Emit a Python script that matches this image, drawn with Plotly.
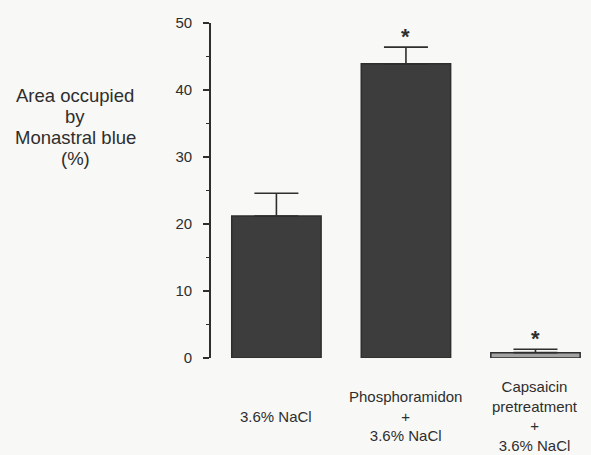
import plotly.graph_objects as go

# ---- data ----
categories = ["3.6% NaCl", "Phosphoramidon<br>+<br>3.6% NaCl", "Capsaicin<br>pretreatment<br>+<br>3.6% NaCl"]
values = [21.2, 43.9, 0.8]
errors = [3.4, 2.5, 0.5]
significant = ["", "*", "*"]
y_ticks = [0, 10, 20, 30, 40, 50]
y_title_lines = ["Area occupied", "by", "Monastral blue", "(%)"]

bar_fill = ["#3d3d3d", "#3d3d3d", "#a3a3a3"]
ink = "#2e2e2e"
bg = "#f8f8f6"

W, H = 591, 455
L, R, T, B = 211, 5, 23, 97
plot_h = H - T - B
plot_w = W - L - R

xs = list(range(len(categories)))
FONT = "Liberation Sans, Arial, Helvetica"

fig = go.Figure()
fig.add_trace(go.Bar(
    x=xs, y=values,
    width=0.69,
    marker=dict(color=bar_fill, line=dict(color=ink, width=1.5)),
    error_y=dict(type="data", array=errors, symmetric=False, arrayminus=[0, 0, 0],
                 color=ink, thickness=1.6, width=22),
    showlegend=False,
    hoverinfo="skip",
))

annotations = []
# significance asterisks
for x, v, e, s in zip(xs, values, errors, significant):
    if s:
        annotations.append(dict(x=x, y=v + e, xref="x", yref="y", text="<b>" + s + "</b>", showarrow=False,
                                yanchor="bottom", yshift=-4,
                                font=dict(family=FONT, size=22, color=ink)))
# category labels (vertically centred, as in the original)
for x, c in zip(xs, categories):
    annotations.append(dict(x=x, y=(T + plot_h - 416) / plot_h, xref="x", yref="paper",
                            text=c, showarrow=False, yanchor="middle", xanchor="center",
                            font=dict(family=FONT, size=15, color=ink)))
# y-axis title, one annotation per line for tight line spacing
title_y_px = [95, 116, 137, 158]
for line, ypx in zip(y_title_lines, title_y_px):
    annotations.append(dict(x=(75 - L) / plot_w, y=(T + plot_h - ypx) / plot_h,
                            xref="paper", yref="paper", text=line, showarrow=False,
                            xanchor="center", yanchor="middle",
                            font=dict(family=FONT, size=18.5, color=ink)))

fig.update_layout(
    width=W, height=H,
    margin=dict(l=L, r=R, t=T, b=B, pad=0),
    paper_bgcolor=bg, plot_bgcolor=bg,
    annotations=annotations,
    xaxis=dict(range=[-0.505, 2.39], showticklabels=False, showgrid=False, zeroline=False,
               showline=False, ticks=""),
    yaxis=dict(range=[0, 50], tickvals=y_ticks, showgrid=False, zeroline=False,
               showline=True, linecolor=ink, linewidth=1.6,
               ticks="outside", ticklen=6, tickwidth=1.6, tickcolor=ink,
               minor=dict(dtick=5, ticks="outside", ticklen=3, tickwidth=1.4, tickcolor=ink),
               ticklabelstandoff=8,
               tickfont=dict(family=FONT, size=15, color=ink)),
)

fig.write_html("out.html", config={"displayModeBar": False},
               post_script="document.body.style.margin='0';")
